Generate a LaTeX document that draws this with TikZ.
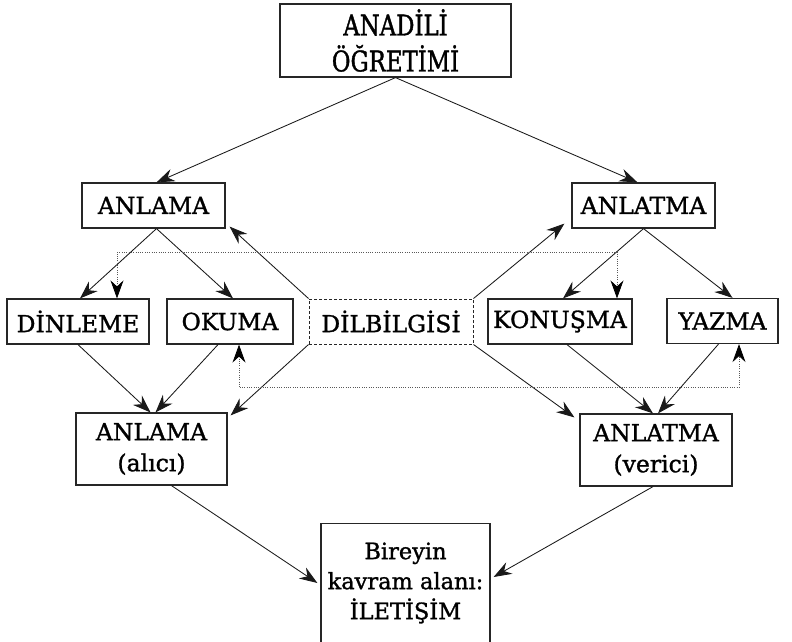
\documentclass[tikz,border=0pt]{standalone}
\usepackage{fontspec}
\setmainfont[FakeBold=1.2]{DejaVu Serif}
\newfontfamily\condfont[FakeStretch=0.8,FakeBold=1.2]{DejaVu Serif}
\usetikzlibrary{arrows.meta}

\begin{document}
\begin{tikzpicture}[x=1pt,y=-1pt,
  box/.style={draw=black!85, line width=1.2pt, rectangle, inner sep=0pt,
    font=\fontsize{23.5}{31}\selectfont, align=center},
  gbox/.style={box, dash pattern=on 3pt off 2pt, line width=1pt},
  arr/.style={-{Stealth[length=18pt,width=13pt,inset=6pt]}, line width=0.85pt, draw=black!90},
  dots/.style={{Stealth[length=18pt,width=13pt,inset=6pt,color=black]}-{Stealth[length=18pt,width=13pt,inset=6pt,color=black]},
    draw=black!65, line width=0.8pt, dash pattern=on 1pt off 1.3pt}]

\clip (0,0) rectangle (792,641);
\fill[white] (0,0) rectangle (792,641);

% top level
\node[box, minimum width=231pt, minimum height=73pt,
  font=\condfont\fontsize{28.5}{36}\selectfont] (top) at (395.5,40.5) {ANADİLİ\\ÖĞRETİMİ};

% second level
\node[box, minimum width=143pt, minimum height=45pt] (anl)  at (153.5,205.5) {ANLAMA};
\node[box, minimum width=143pt, minimum height=45pt] (anlt) at (643.5,205.5) {ANLATMA};

% skills row
\node[box, minimum width=142pt, minimum height=45pt] (din) at (78,321.5)  {DİNLEME};
\node[box, minimum width=126pt, minimum height=45pt] (oku) at (230,321.5) {OKUMA};
\node[gbox, minimum width=164pt, minimum height=45pt] (dil) at (391,321.5) {DİLBİLGİSİ};
\node[box, minimum width=144pt, minimum height=45pt] (kon) at (560,321.5) {KONUŞMA};
\node[box, minimum width=111pt, minimum height=45pt] (yaz) at (722.5,321) {YAZMA};

% receiver / sender
\node[box, minimum width=151pt, minimum height=72pt] (alici)  at (151.5,449) {ANLAMA\\(alıcı)};
\node[box, minimum width=152pt, minimum height=72pt] (verici) at (656,450)   {ANLATMA\\(verici)};

% bottom box, open at the lower edge
\node[box, minimum width=169pt, minimum height=160pt, anchor=north] (bot) at (405.5,523) {};
\node[align=center, inner sep=0pt, font=\fontsize{22.5}{30}\selectfont] (botlbl) at (405.5,583)
  {Bireyin\\kavram alanı:\\İLETİŞİM};

% solid connectors
\draw[arr] (top.south) -- ([xshift=3pt]anl.north);
\draw[arr] (top.south) -- ([xshift=-6pt]anlt.north);

\draw[arr] ([xshift=3pt]anl.south) -- ([xshift=2pt]din.north);
\draw[arr] ([xshift=3pt]anl.south) -- ([xshift=3pt]oku.north);
\draw[arr] (anlt.south) -- ([xshift=3pt]kon.north);
\draw[arr] (anlt.south) -- ([xshift=10pt]yaz.north);

\draw[arr] (din.south) -- ([xshift=-1pt]alici.north);
\draw[arr] ([xshift=-12pt]oku.south) -- ([xshift=4pt]alici.north);
\draw[arr] ([xshift=7pt]kon.south) -- ([xshift=-3pt]verici.north);
\draw[arr] ([xshift=-4pt]yaz.south) -- ([xshift=2pt]verici.north);

\draw[arr] (dil.north west) -- ([shift={(4pt,2pt)}]anl.south east);
\draw[arr] (dil.south west) -- ([shift={(3pt,-3pt)}]alici.north east);
\draw[arr] (dil.north east) -- ([shift={(-7pt,5pt)}]anlt.south west);
\draw[arr] (dil.south east) -- ([shift={(-5pt,-4pt)}]verici.north west);

\draw[arr] ([xshift=20pt]alici.south) -- ([xshift=-3pt]bot.west |- botlbl);
\draw[arr] ([xshift=-3pt]verici.south) -- ([shift={(3pt,6pt)}]bot.east |- botlbl);

% dotted links
\draw[dots] ([xshift=39pt]din.north) -- ++(0,-46) -| ([xshift=57pt]kon.north);
\draw[dots] ([xshift=9pt]oku.south) -- ++(0,43) -| ([xshift=16.5pt]yaz.south);

\end{tikzpicture}
\end{document}
